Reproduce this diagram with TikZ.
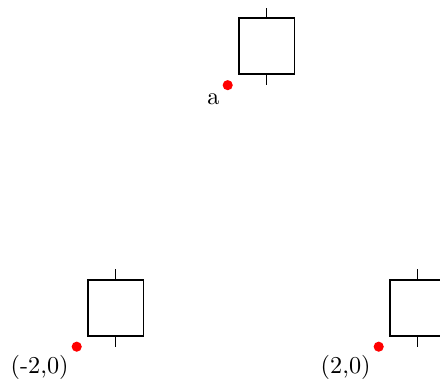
\documentclass[tikz,border=0pt]{standalone}
\usetikzlibrary{calc}
\begin{document}
\begin{tikzpicture}[x=1.15cm,y=1.15cm,
  box/.style={draw,line width=0.8pt,minimum width=0.851cm,minimum height=0.851cm,inner sep=0pt,anchor=south west},
  tickline/.style={line width=0.8pt},
  reddot/.style={circle,fill=red,draw=none,inner sep=0pt,minimum size=4.4pt},
  lbl/.style={anchor=north east,inner sep=0.333em,font=\fontsize{10.5}{12}\selectfont}]
\useasboundingbox (-3.016,-0.454) rectangle (2.812,4.592);
\coordinate (pa) at (0,3.464);
\coordinate (pl) at (-2,0);
\coordinate (pr) at (2,0);
\foreach \p/\t in {pa/a, pl/{(-2,0)}, pr/{(2,0)}}{
  \node[box] (b\p) at ($(\p)+(0.132,0.132)$) {};
  \draw[tickline] (b\p.north) -- ++(0,0.132);
  \draw[tickline] (b\p.south) -- ++(0,-0.132);
  \node[reddot] (d\p) at (\p) {};
  \node[lbl] (l\p) at (d\p.center) {\t};
}
\end{tikzpicture}
\end{document}
